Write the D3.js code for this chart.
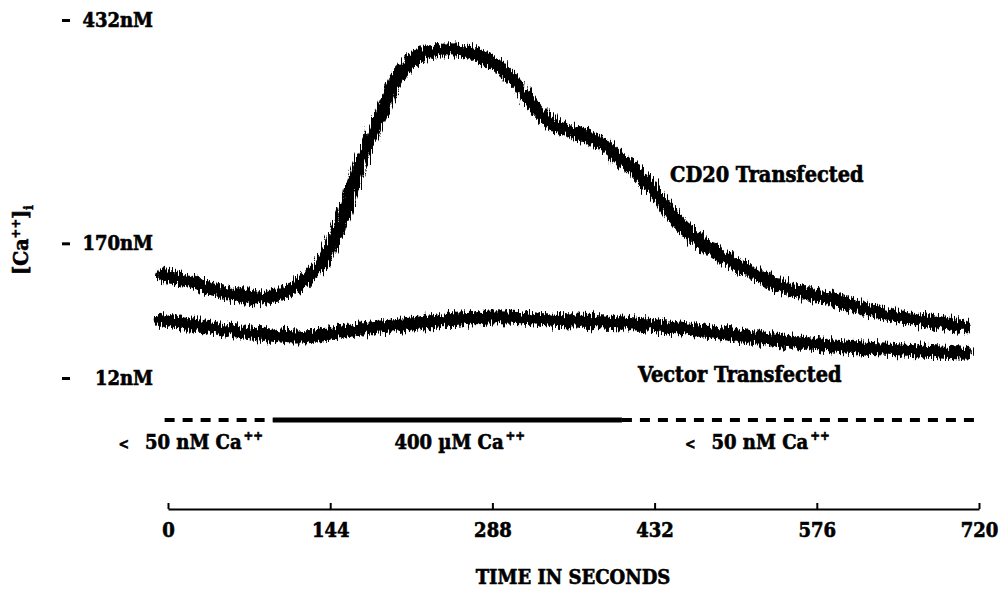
<!DOCTYPE html>
<html>
<head>
<meta charset="utf-8">
<script src="https://cdn.jsdelivr.net/npm/d3@7"></script>
<style>
  body { margin: 0; background: #fff; }
  svg text { font-family: "DejaVu Serif Condensed", "DejaVu Serif", serif; font-weight: bold; fill: #000; stroke: #000; stroke-width: 0.6px; }
</style>
</head>
<body>
<div id="chart"></div>
<script>
// Ca++ traces (time in s, [Ca++]i in nM)
var timeTicks = [0, 144, 288, 432, 576, 720];
var caTicks = [12, 170, 432];

var cd20Time = [-4, 20, 49, 79, 106, 123, 141, 155, 171, 186, 203, 215, 233, 250, 268, 280, 295, 310, 324, 339, 354, 368, 384, 399, 413, 428, 457, 479, 502, 524, 546, 568, 590, 613, 635, 657, 679, 708];
var cd20Ca = [133, 125, 113, 106, 114, 129, 156, 201, 265, 312, 362, 383, 395, 397, 395, 387, 376, 356, 332, 312, 303, 297, 288, 271, 258, 237, 189, 166, 147, 132, 119, 111, 104, 95, 88, 82, 78, 72];

var vectorTime = [-7, 28, 73, 117, 162, 206, 250, 295, 339, 384, 428, 472, 517, 561, 606, 650, 708];
var vectorCa = [80, 73, 65, 60, 68, 74, 80, 84, 80, 78, 74, 68, 60, 53, 48, 45, 41];

// bath calcium during the run
var bathStart = [-3, 93, 403];
var bathEnd = [93, 403, 719];
var bathLabel = ["< 50 nM Ca", "400 \u00b5M Ca", "< 50 nM Ca"];
var bathHigh = [false, true, false];
var bathLabelAt = [-44, 201, 459];

var width = 999;
var height = 590;

var svg = d3.select("#chart")
  .append("svg")
  .attr("width", width)
  .attr("height", height);

// rough edge for the noisy fluorescence traces
var defs = svg.append("defs");
var rough = defs.append("filter")
  .attr("id", "rough")
  .attr("x", "-5%").attr("y", "-20%")
  .attr("width", "110%").attr("height", "140%");
rough.append("feTurbulence")
  .attr("type", "fractalNoise")
  .attr("baseFrequency", "0.7 0.05")
  .attr("numOctaves", 2)
  .attr("seed", 4)
  .attr("result", "noise");
rough.append("feDisplacementMap")
  .attr("in", "SourceGraphic")
  .attr("in2", "noise")
  .attr("scale", 15)
  .attr("xChannelSelector", "R")
  .attr("yChannelSelector", "G");

var xScale = d3.scaleLinear().domain([0, 720]).range([168, 979]);
var yScale = d3.scaleLinear().domain([12, 432]).range([378, 20]);

// y axis: little dash ticks with labels to the right
var yAxis = d3.axisRight(yScale)
  .tickValues(caTicks)
  .tickSize(8)
  .tickFormat(function(d) { return d + "nM"; });

var yG = svg.append("g")
  .attr("transform", "translate(62,0)")
  .call(yAxis);
yG.select(".domain").remove();
yG.selectAll("line").attr("stroke", "#000").attr("stroke-width", 3);
yG.selectAll("text")
  .attr("x", 91)
  .attr("text-anchor", "end")
  .style("font-size", "20px");

// y title [Ca++]i
var yTitle = svg.append("text")
  .attr("transform", "translate(28,240)rotate(-90)")
  .attr("text-anchor", "middle")
  .style("font-size", "21px");
yTitle.append("tspan").text("[Ca");
yTitle.append("tspan").attr("dy", -8).style("font-size", "13px").text("++");
yTitle.append("tspan").attr("dy", 8).text("]");
yTitle.append("tspan").attr("dy", 5).style("font-size", "13px").text("i");

// x axis
var xAxis = d3.axisBottom(xScale)
  .tickValues(timeTicks)
  .tickSizeInner(-6)
  .tickSizeOuter(0)
  .tickPadding(14);

var xG = svg.append("g")
  .attr("transform", "translate(0,509)")
  .call(xAxis);
xG.select(".domain").attr("stroke", "#000").attr("stroke-width", 2);
xG.selectAll("line").attr("stroke", "#000").attr("stroke-width", 2);
xG.selectAll("text").style("font-size", "20px");

svg.append("text")
  .attr("x", 573)
  .attr("y", 584)
  .attr("text-anchor", "middle")
  .style("font-size", "20px")
  .text("TIME IN SECONDS");

// traces
var line = d3.line()
  .x(function(d) { return xScale(d[0]); })
  .y(function(d) { return yScale(d[1]); })
  .curve(d3.curveMonotoneX);

var cd20 = d3.zip(cd20Time, cd20Ca);
var vector = d3.zip(vectorTime, vectorCa);

svg.selectAll("path.trace")
  .data([cd20, vector])
  .enter()
  .append("path")
  .attr("class", "trace")
  .attr("d", line)
  .attr("fill", "none")
  .attr("stroke", "#000")
  .attr("stroke-width", 13)
  .attr("stroke-linecap", "round")
  .attr("filter", "url(#rough)");

svg.append("text").attr("x", 670).attr("y", 182).style("font-size", "21.5px").text("CD20 Transfected");
svg.append("text").attr("x", 638).attr("y", 382).style("font-size", "21.5px").text("Vector Transfected");

// bath bar
var bath = d3.range(bathStart.length).map(function(i) {
  return { start: bathStart[i], end: bathEnd[i], label: bathLabel[i], high: bathHigh[i], at: bathLabelAt[i] };
});

svg.selectAll("line.bath")
  .data(bath)
  .enter()
  .append("line")
  .attr("class", "bath")
  .attr("x1", function(d) { return xScale(d.start); })
  .attr("x2", function(d) { return xScale(d.end); })
  .attr("y1", 420)
  .attr("y2", 420)
  .attr("stroke", "#000")
  .attr("stroke-width", function(d) { return d.high ? 5 : 4; })
  .attr("stroke-dasharray", function(d) { return d.high ? null : "10,8"; });

var bathText = svg.selectAll("text.bath")
  .data(bath)
  .enter()
  .append("text")
  .attr("class", "bath")
  .attr("x", function(d) { return xScale(d.at); })
  .attr("y", 449)
  .style("font-size", "20px");
bathText.each(function(d) {
  var t = d3.select(this);
  if (d.label.charAt(0) === "<") {
    t.append("tspan").style("font-size", "14px").text("<");
    t.append("tspan").attr("dx", 16).text(d.label.slice(2));
  } else {
    t.append("tspan").text(d.label);
  }
  t.append("tspan").attr("dy", -9).attr("dx", 2).style("font-size", "13px").text("++");
});
</script>
</body>
</html>
